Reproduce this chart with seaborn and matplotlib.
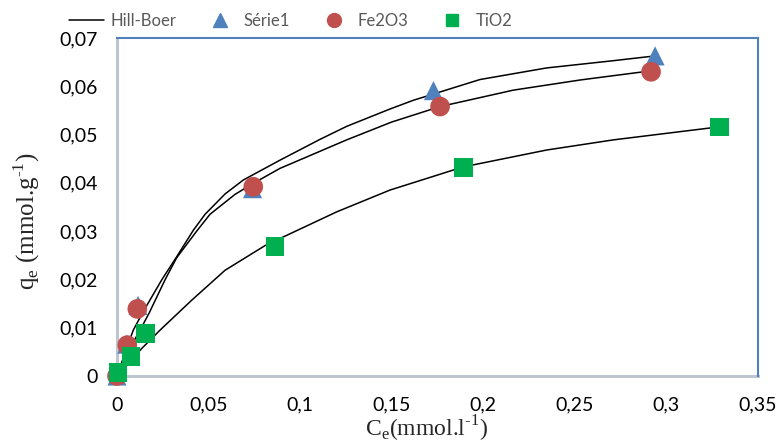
import numpy as np
import pandas as pd
import matplotlib
matplotlib.use("Agg")
import matplotlib.pyplot as plt
import seaborn as sns
from matplotlib.ticker import FuncFormatter
from matplotlib.lines import Line2D

# ---- measured points ----
serie1_ce = [0.0, 0.0053, 0.0115, 0.0740, 0.1728, 0.2938]
serie1_qe = [0.0, 0.0066, 0.0146, 0.0388, 0.0591, 0.0663]

fe2o3_ce = [0.0, 0.0056, 0.0111, 0.0744, 0.1764, 0.2916]
fe2o3_qe = [0.0, 0.0064, 0.0139, 0.0392, 0.0558, 0.0630]

tio2_ce = [0.0005, 0.0078, 0.0155, 0.0864, 0.1891, 0.3289]
tio2_qe = [0.0007, 0.0040, 0.0088, 0.0268, 0.0432, 0.0516]

# ---- Hill-Boer fitted curves ----
fit1_ce = [0.0, 0.0053, 0.0089, 0.0138, 0.0244, 0.0326, 0.0417, 0.0481, 0.059,
           0.069, 0.089, 0.1108, 0.1254, 0.1491, 0.1618, 0.1982, 0.2346, 0.271, 0.294]
fit1_qe = [0.0, 0.0058, 0.0095, 0.0130, 0.0199, 0.0247, 0.0302, 0.0335, 0.0377,
           0.0406, 0.0447, 0.0490, 0.0517, 0.0553, 0.0571, 0.0614, 0.0638, 0.0653, 0.0663]

fit2_ce = [0.0, 0.0056, 0.0126, 0.0175, 0.0262, 0.0326, 0.0435, 0.0508, 0.0644,
           0.0744, 0.089, 0.1254, 0.150, 0.1764, 0.2164, 0.2528, 0.2874, 0.2916]
fit2_qe = [0.0, 0.0048, 0.0095, 0.0130, 0.0199, 0.0245, 0.0300, 0.0335, 0.0376,
           0.0399, 0.0430, 0.0489, 0.0526, 0.0558, 0.0592, 0.0613, 0.0630, 0.0631]

fit3_ce = [0.0, 0.0135, 0.0235, 0.0408, 0.059, 0.0808, 0.0908, 0.120, 0.149,
           0.189, 0.2346, 0.271, 0.3074, 0.3289]
fit3_qe = [0.0, 0.0057, 0.0095, 0.0157, 0.0219, 0.0270, 0.0288, 0.0340, 0.0385,
           0.0433, 0.0468, 0.0489, 0.0506, 0.0516]

x_ticks = [0, 0.05, 0.1, 0.15, 0.2, 0.25, 0.3, 0.35]
y_ticks = [0, 0.01, 0.02, 0.03, 0.04, 0.05, 0.06, 0.07]

sns.set_theme(style="white")
plt.rcParams["font.family"] = ["Lato", "DejaVu Sans"]
plt.rcParams["mathtext.fontset"] = "custom"
plt.rcParams["mathtext.rm"] = "Liberation Serif"

BLUE = "#4F81BD"
RED = "#C0504D"
GREEN = "#00B050"
GRAY_AX = "#BFC5CE"

fig = plt.figure(figsize=(7.81, 4.44), dpi=100)
ax = fig.add_axes([117 / 781, 1 - 376 / 444, (758 - 117) / 781, (376 - 38) / 444])

for cx, cy in [(fit1_ce, fit1_qe), (fit2_ce, fit2_qe), (fit3_ce, fit3_qe)]:
    sns.lineplot(x=cx, y=cy, estimator=None, sort=False, color="black",
                 lw=1.1, ax=ax, zorder=2)

sns.scatterplot(x=serie1_ce, y=serie1_qe, marker="^", s=190, color=BLUE,
                edgecolor="none", linewidth=0, ax=ax, zorder=3, clip_on=False)
sns.scatterplot(x=fe2o3_ce, y=fe2o3_qe, marker="o", s=200, color=RED,
                edgecolor="none", linewidth=0, ax=ax, zorder=4, clip_on=False)
sns.scatterplot(x=tio2_ce, y=tio2_qe, marker="s", s=175, color=GREEN,
                edgecolor="none", linewidth=0, ax=ax, zorder=5, clip_on=False)

ax.set_xlim(0, 0.35)
ax.set_ylim(0, 0.07)
ax.set_xticks(x_ticks)
ax.set_yticks(y_ticks)
fmt = FuncFormatter(lambda v, p: ("%g" % round(v, 4)).replace(".", ","))
ax.xaxis.set_major_formatter(fmt)
ax.yaxis.set_major_formatter(fmt)
ax.tick_params(axis="both", length=0, labelsize=14, colors="black")
ax.tick_params(axis="x", pad=15)
ax.tick_params(axis="y", pad=14)
ax.grid(False)

for side in ["top", "right"]:
    ax.spines[side].set_color(BLUE)
    ax.spines[side].set_linewidth(1.5)
for side in ["left", "bottom"]:
    ax.spines[side].set_color(GRAY_AX)
    ax.spines[side].set_linewidth(2.2)
    ax.spines[side].set_zorder(1)

ax.set_xlabel("C$_\\mathregular{e}$(mmol.l$^\\mathregular{\u20101}$)",
              family="Liberation Serif", fontsize=17)
ax.set_ylabel("q$_\\mathregular{e}$ (mmol.g$^\\mathregular{\u20101}$)",
              family="Liberation Serif", fontsize=18)
ax.xaxis.set_label_coords((427 - 117) / 641, -(414 - 376) / 338)
ax.yaxis.set_label_coords(-(117 - 42) / 641, (376 - 221) / 338)

handles = [
    Line2D([0], [0], color="black", lw=1.1),
    Line2D([0], [0], marker="^", color=BLUE, lw=0, markersize=10),
    Line2D([0], [0], marker="o", color=RED, lw=0, markersize=10),
    Line2D([0], [0], marker="s", color=GREEN, lw=0, markersize=9),
]
labels = ["Hill-Boer", "Série1", "Fe2O3", "TiO2"]
leg = fig.legend(handles, labels, loc="center", bbox_to_anchor=(291 / 781, 1 - 21 / 444),
                 ncol=4, frameon=False, fontsize=12, handlelength=2.1,
                 columnspacing=1.6, handletextpad=0.35)
for t in leg.get_texts():
    t.set_color("#595959")

fig.savefig("out.png", dpi=100)
